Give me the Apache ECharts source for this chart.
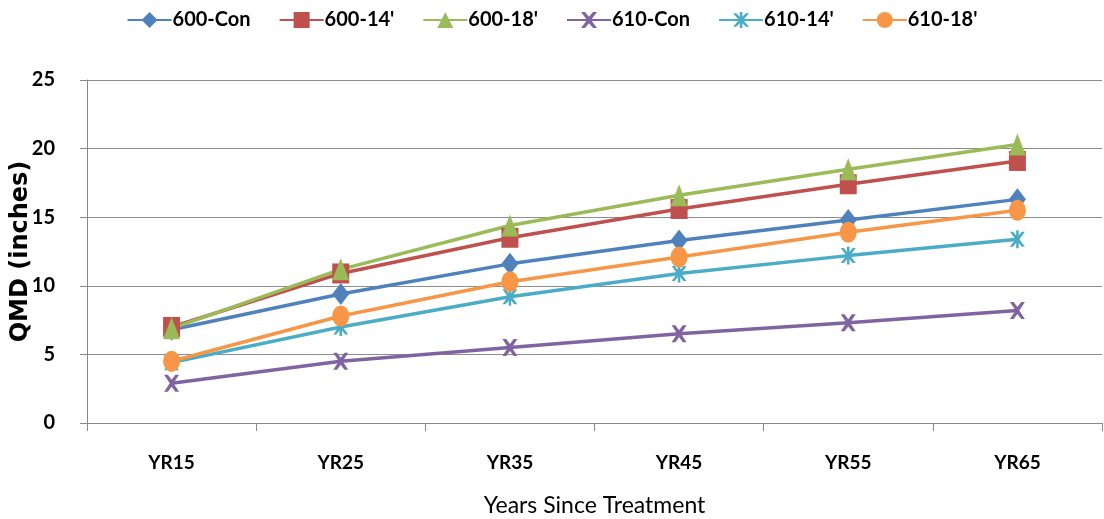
<!DOCTYPE html>
<html>
<head>
<meta charset="utf-8">
<script src="https://cdn.jsdelivr.net/npm/echarts@6/dist/echarts.min.js"></script>
<style>html,body{margin:0;padding:0;background:#fff}#c{width:1104px;height:519px}</style>
</head>
<body>
<div id="c"></div>
<script>
const categories = ['YR15', 'YR25', 'YR35', 'YR45', 'YR55', 'YR65'];
const s600Con = [6.8, 9.4, 11.6, 13.3, 14.8, 16.3];
const s600_14 = [7.0, 10.9, 13.5, 15.6, 17.4, 19.1];
const s600_18 = [6.9, 11.2, 14.4, 16.6, 18.5, 20.3];
const s610Con = [2.9, 4.5, 5.5, 6.5, 7.3, 8.2];
const s610_14 = [4.4, 7.0, 9.2, 10.9, 12.2, 13.4];
const s610_18 = [4.5, 7.8, 10.3, 12.1, 13.9, 15.5];
const yTicks = [0, 5, 10, 15, 20, 25];

const LBL = 'Lato, sans-serif';
const xPath = 'path://M0,0 L3,0 L6,3.5 L9,0 L12,0 L7.5,6 L12,12 L9,12 L6,8.5 L3,12 L0,12 L4.5,6 Z';
const starPath = 'path://M0,1 L2.5,1 L6,4.6 L9.5,1 L12,1 L7.6,6 L12,11 L9.5,11 L6,7.4 L2.5,11 L0,11 L4.4,6 Z M5,0 L7,0 L7,12 L5,12 Z';

function mk(name, data, color, symbol, size) {
  return {
    name: name, type: 'line', data: data,
    symbol: symbol, symbolSize: size, showSymbol: true,
    lineStyle: { width: 3.5, color: color },
    itemStyle: { color: color },
    emphasis: { disabled: true },
    animation: false
  };
}

const chart = echarts.init(document.getElementById('c'));
chart.setOption({
  animation: false,
  legend: {
    top: 5, left: 'center',
    itemWidth: 44, itemHeight: 20, itemGap: 28,
    textStyle: { fontFamily: LBL, fontSize: 20, fontWeight: 'bold', color: '#000', padding: [0, 0, 0, -4] },
    data: ['600-Con', "600-14'", "600-18'", '610-Con', "610-14'", "610-18'"]
  },
  grid: { left: 87, right: 2, top: 80, bottom: 96, containLabel: false, outerBoundsMode: 'none' },
  xAxis: {
    type: 'category', data: categories, boundaryGap: true,
    axisLine: { lineStyle: { color: '#888', width: 1 } },
    axisTick: { show: true, length: 8, alignWithLabel: false, lineStyle: { color: '#888' } },
    axisLabel: { margin: 30, fontFamily: LBL, fontSize: 19, fontWeight: 'bold', color: '#000' },
    name: 'Years Since Treatment', nameLocation: 'middle', nameGap: 71, nameMoveOverlap: false,
    nameTextStyle: { fontFamily: LBL, fontSize: 23, color: '#000' }
  },
  yAxis: {
    type: 'value', min: 0, max: 25, interval: 5,
    axisLine: { show: true, lineStyle: { color: '#888', width: 1 } },
    axisTick: { show: true, length: 7, lineStyle: { color: '#888' } },
    splitLine: { lineStyle: { color: '#8c8c8c', width: 1 } },
    axisLabel: { margin: 32, fontFamily: LBL, fontSize: 20, fontWeight: 'bold', color: '#000',
      formatter: function (v) { return yTicks.indexOf(v) >= 0 ? String(v) : ''; } },
    name: 'QMD (inches)', nameLocation: 'middle', nameGap: 54, nameRotate: 90, nameMoveOverlap: false,
    nameTextStyle: { fontFamily: '"DejaVu Sans", sans-serif', fontSize: 24, fontWeight: 'bold', color: '#000' }
  },
  series: [
    mk('600-Con', s600Con, '#4F81BD', 'diamond', [17, 22]),
    mk("600-14'", s600_14, '#C0504D', 'rect', [17, 20]),
    mk("600-18'", s600_18, '#9BBB59', 'triangle', [17, 22]),
    mk('610-Con', s610Con, '#8064A2', xPath, [15, 17]),
    mk("610-14'", s610_14, '#4BACC6', starPath, [15, 18]),
    mk("610-18'", s610_18, '#F79646', 'circle', [17, 21])
  ]
});
</script>
</body>
</html>
